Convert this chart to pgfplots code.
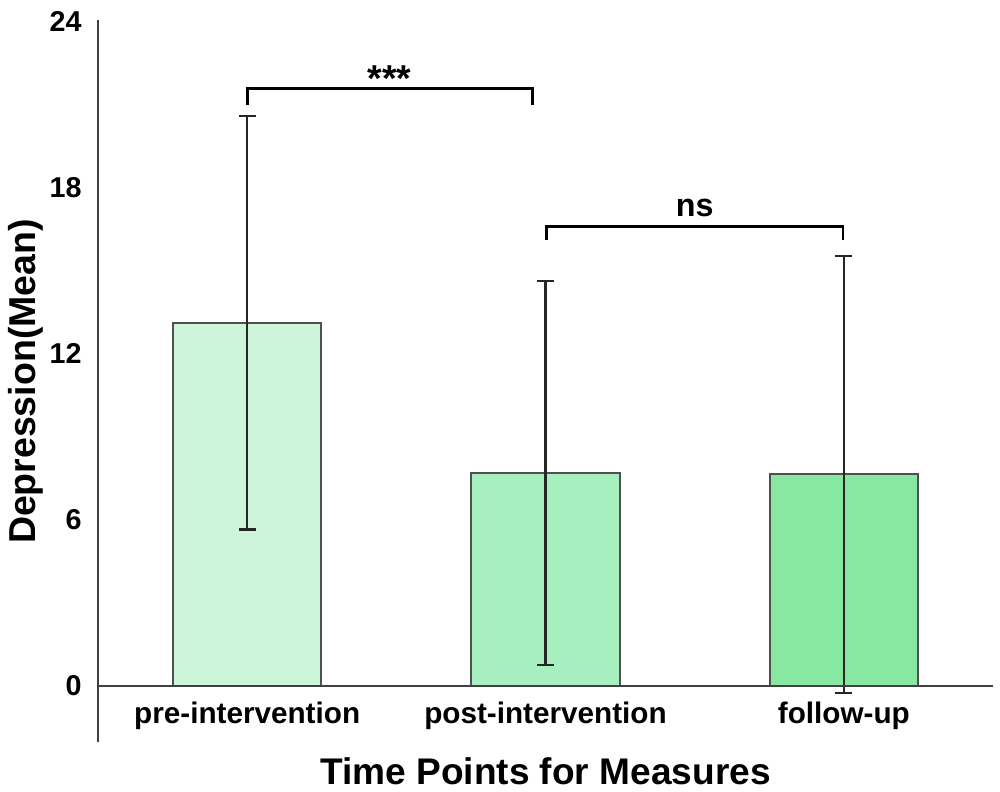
\documentclass[border=0pt]{standalone}
\usepackage{pgfplots}
\pgfplotsset{compat=1.18}
\usepackage{fontspec}
\setmainfont{Liberation Sans}
\definecolor{c1}{HTML}{CDF5DA}
\definecolor{c2}{HTML}{A8EFC0}
\definecolor{c3}{HTML}{88E8A2}
\definecolor{edge}{HTML}{505050}
\definecolor{axisc}{HTML}{404040}
\begin{document}
\begin{tikzpicture}
\begin{axis}[
  scale only axis,
  width=447.5bp, height=333bp,
  xmin=-0.5, xmax=2.5, ymin=0, ymax=24.07,
  axis line style={draw=none},
  major tick length=0pt,
  clip=false,
  xtick={0,1,2},
  xticklabels={pre-intervention,post-intervention,follow-up},
  ytick={0,6,12,18,24},
  /pgf/number format/assume math mode=true,
  yticklabel style={font=\bfseries\fontsize{14.4}{14.4}\selectfont, anchor=east, inner sep=0pt, xshift=-8bp},
  xticklabel style={font=\bfseries\fontsize{14.9}{14.9}\selectfont, anchor=base, inner sep=0pt, yshift=-18.5bp},
  ylabel={Depression(Mean)},
  ylabel style={font=\bfseries\fontsize{18.8}{18.8}\selectfont, at={(axis description cs:-0.081,0.457)}, anchor=center},
  xlabel={Time Points for Measures},
  xlabel style={font=\bfseries\fontsize{18.6}{18.6}\selectfont, at={(axis description cs:0.5,-0.1486)}, anchor=base},
  ybar, bar width=0.497, bar shift=0pt,
  error bars/y dir=both, error bars/y explicit,
  error bars/error bar style={line width=1.2bp, draw=black!85},
  error bars/error mark options={rotate=90, line width=1.2bp, draw=black!85, mark size=4.2bp},
]
\coordinate (o) at (rel axis cs:0,0);
\draw[axisc, line width=1.4bp] (axis cs:-0.5,-2.02) -- (axis cs:-0.5,24.07);
\addplot[fill=c1, draw=edge, line width=0.9bp] coordinates {(0,13.12) +- (0,7.47)};
\addplot[fill=c2, draw=edge, line width=0.9bp] coordinates {(1,7.70) +- (0,6.94)};
\addplot[fill=c3, draw=edge, line width=0.9bp] coordinates {(2,7.65) +- (0,7.90)};
\draw[axisc, line width=1.4bp] (axis cs:-0.5,0) -- (axis cs:2.5,0);
\draw[black, line width=1.4bp] (axis cs:0,21.0) -- (axis cs:0,21.58) -- (axis cs:0.956,21.58) -- (axis cs:0.956,21.0);
\draw[black, line width=1.4bp] (axis cs:1.003,16.12) -- (axis cs:1.003,16.62) -- (axis cs:1.997,16.62) -- (axis cs:1.997,16.12);
\node[font=\bfseries\fontsize{18.8}{18.8}\selectfont, anchor=base, inner sep=0pt] at (axis cs:0.477,21.5) {***};
\node[font=\bfseries\fontsize{16.2}{16.2}\selectfont, anchor=base, inner sep=0pt] at (axis cs:1.5,16.95) {ns};
\end{axis}
\pgfresetboundingbox
\path (o) ++(-49bp,-53bp) rectangle ++(500bp,396bp);
\end{tikzpicture}
\end{document}
